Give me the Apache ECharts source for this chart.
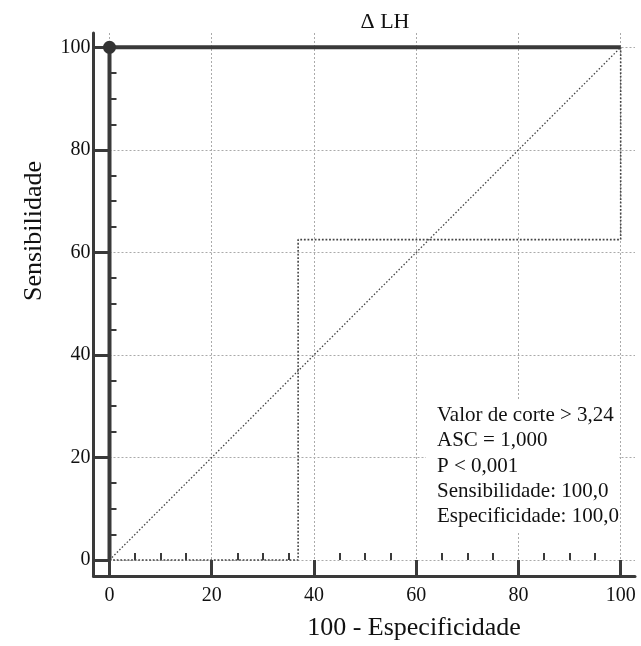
<!DOCTYPE html>
<html><head><meta charset="utf-8">
<script src="https://cdn.jsdelivr.net/npm/echarts@6/dist/echarts.min.js"></script>
<style>html,body{margin:0;padding:0;background:#fff}#c{width:641px;height:646px}</style>
</head><body><div id="c"></div>
<script>
const majorTicks = [0, 20, 40, 60, 80, 100];
const minorTicks = [5, 10, 15, 25, 30, 35, 45, 50, 55, 65, 70, 75, 85, 90, 95];
const rocCurve = [[0, 0], [0, 100], [100, 100]];
const cutoffPoint = [[0, 100]];
const ciLower = [[0, 0], [36.9, 0], [36.9, 62.5], [100, 62.5], [100, 100]];
const diagonal = [[0, 0], [100, 100]];
const titleText = 'Δ LH';
const xName = '100 - Especificidade';
const yName = 'Sensibilidade';
const infoLines = ['Valor de corte > 3,24', 'ASC = 1,000', 'P < 0,001', 'Sensibilidade: 100,0', 'Especificidade: 100,0'];

const FONT = 'Liberation Serif';
const AX = '#3a3a3a';
const chart = echarts.init(document.getElementById('c'));

function mainAxis(name) {
  return {
    type: 'value', min: -3.13, max: 102.8,
    axisLine: {show: true, onZero: false, lineStyle: {color: AX, width: 3}},
    axisTick: {show: true, inside: true, length: 16, customValues: majorTicks, lineStyle: {color: AX, width: 3}},
    axisLabel: {show: true, customValues: majorTicks, fontFamily: FONT, fontSize: 20, color: '#111', margin: name === 'x' ? 10 : 3},
    splitLine: {show: true, lineStyle: {color: '#aaa', width: 1, type: [2, 2]}},
    minorTick: {show: false}
  };
}
function minorAxis() {
  return {
    type: 'value', min: -3.13, max: 102.8,
    axisLine: {show: false},
    axisTick: {show: true, inside: true, length: 7, customValues: minorTicks, lineStyle: {color: AX, width: 2}},
    axisLabel: {show: false},
    splitLine: {show: false}
  };
}
const xMain = mainAxis('x'); xMain.position = 'bottom';
const xMinor = minorAxis(); xMinor.position = 'bottom';
const yMain = mainAxis('y'); yMain.position = 'left'; yMain.min = -3.12; yMain.max = 102.8;
const yMinor = minorAxis(); yMinor.position = 'left'; yMinor.min = -3.12; yMinor.max = 102.8;

const infoGraphics = infoLines.map((t, i) => ({
  type: 'text', left: 437, top: 405 + i * 25.3, z: 2,
  style: {text: t, font: '21px "' + FONT + '"', fill: '#111'}
}));

chart.setOption({
  animation: false,
  grid: {left: 93.5, top: 33, width: 541.5, height: 543, containLabel: false},
  xAxis: [xMain, xMinor],
  yAxis: [yMain, yMinor],
  graphic: [
    {type: 'rect', shape: {x: 426, y: 400, width: 193, height: 132}, style: {fill: '#fff'}, z: 1},
    {type: 'text', x: 385, y: 22, style: {text: titleText, font: '22px "' + FONT + '"', fill: '#111', align: 'center', verticalAlign: 'middle'}},
    {type: 'text', x: 414, y: 628, style: {text: xName, font: '26px "' + FONT + '"', fill: '#111', align: 'center', verticalAlign: 'middle'}},
    {type: 'text', x: 34, y: 231, rotation: Math.PI / 2, style: {text: yName, font: '26px "' + FONT + '"', fill: '#111', align: 'center', verticalAlign: 'middle'}}
  ].concat(infoGraphics),
  series: [
    {type: 'line', data: diagonal, symbol: 'none', lineStyle: {color: '#444', width: 1.3, type: [1.5, 2]}, z: 2},
    {type: 'line', data: ciLower, symbol: 'none', lineStyle: {color: '#444', width: 1.6, type: [1.8, 1.8]}, z: 2},
    {type: 'line', data: rocCurve, symbol: 'none', lineStyle: {color: '#3a3a3a', width: 4}, z: 3},
    {type: 'scatter', data: cutoffPoint, symbol: 'circle', symbolSize: 13, itemStyle: {color: '#333', opacity: 1}, z: 4}
  ]
});
</script></body></html>
